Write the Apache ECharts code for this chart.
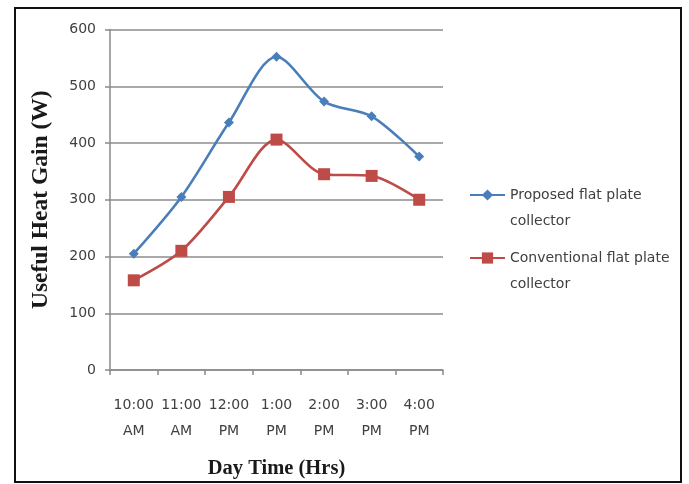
<!DOCTYPE html>
<html><head><meta charset="utf-8">
<script src="https://cdn.jsdelivr.net/npm/echarts@6/dist/echarts.min.js"></script>
<style>html,body{margin:0;padding:0;background:#fff}#c{width:689px;height:484px}</style>
</head><body><div id="c"></div>
<script>
var categories = ['10:00\nAM','11:00\nAM','12:00\nPM','1:00\nPM','2:00\nPM','3:00\nPM','4:00\nPM'];
var proposed = [205, 305, 436, 552, 473, 447, 376];
var conventional = [158, 210, 305, 406, 345, 342, 300];
var seriesNames = ['Proposed flat plate collector', 'Conventional flat plate collector'];
var legendLines = {
  'Proposed flat plate collector': ['Proposed flat plate', 'collector'],
  'Conventional flat plate collector': ['Conventional flat plate', 'collector']
};
var yTicks = [0, 100, 200, 300, 400, 500, 600];

var chart = echarts.init(document.getElementById('c'), null, {renderer:'canvas'});
var axisColor = '#8a8a8a';
var lblFont = 'DejaVu Sans';
chart.setOption({
  animation: false,
  backgroundColor: '#fff',
  graphic: [{type:'rect', shape:{x:15, y:8, width:666, height:474}, style:{fill:'none', stroke:'#111', lineWidth:2}}],
  grid: {left:110, right:246, top:29.5, bottom:113.3, containLabel:false},
  legend: {
    orient:'vertical', left:469, top:156, padding:0, itemWidth:35, itemHeight:14, itemGap:-15,
    data: seriesNames,
    formatter: function(n){ var l = legendLines[n]; return '\u00a0\n' + l[0] + '\n' + l[1]; },
    textStyle: {fontFamily:lblFont, fontSize:14, color:'#404040', lineHeight:26}
  },
  xAxis: {
    type:'category', data:categories, boundaryGap:true,
    name:'Day Time (Hrs)', nameLocation:'middle', nameGap:88,
    nameTextStyle:{fontFamily:'Liberation Serif', fontWeight:'bold', fontSize:20.5, color:'#1a1a1a'},
    axisLine:{lineStyle:{color:axisColor, width:1.5}},
    axisTick:{show:true, length:5, lineStyle:{color:axisColor, width:1.5}},
    axisLabel:{fontFamily:lblFont, fontSize:14, color:'#404040', lineHeight:26, margin:22, interval:0}
  },
  yAxis: {
    type:'value', min:0, max:600, interval:100,
    name:'Useful Heat Gain (W)', nameLocation:'middle', nameGap:57,
    nameTextStyle:{fontFamily:'Liberation Serif', fontWeight:'bold', fontSize:23.5, color:'#1a1a1a'},
    axisLine:{show:true, lineStyle:{color:axisColor, width:1.5}},
    axisTick:{show:true, length:5, lineStyle:{color:axisColor, width:1.5}},
    axisLabel:{fontFamily:lblFont, fontSize:14, color:'#404040', margin:14,
      formatter:function(v){return yTicks.indexOf(v)>=0 ? String(v) : '';}},
    splitLine:{show:true, lineStyle:{color:'#8c8c8c', width:1.5}}
  },
  series: [
    {name:seriesNames[0], type:'line', data:proposed, smooth:0.3,
     symbol:'diamond', symbolSize:10, showSymbol:true,
     lineStyle:{color:'#4a7ebb', width:2.6}, itemStyle:{color:'#4a7ebb'}},
    {name:seriesNames[1], type:'line', data:conventional, smooth:0.3,
     symbol:'rect', symbolSize:12,
     lineStyle:{color:'#be4b48', width:2.6}, itemStyle:{color:'#be4b48'}}
  ]
});
</script></body></html>
